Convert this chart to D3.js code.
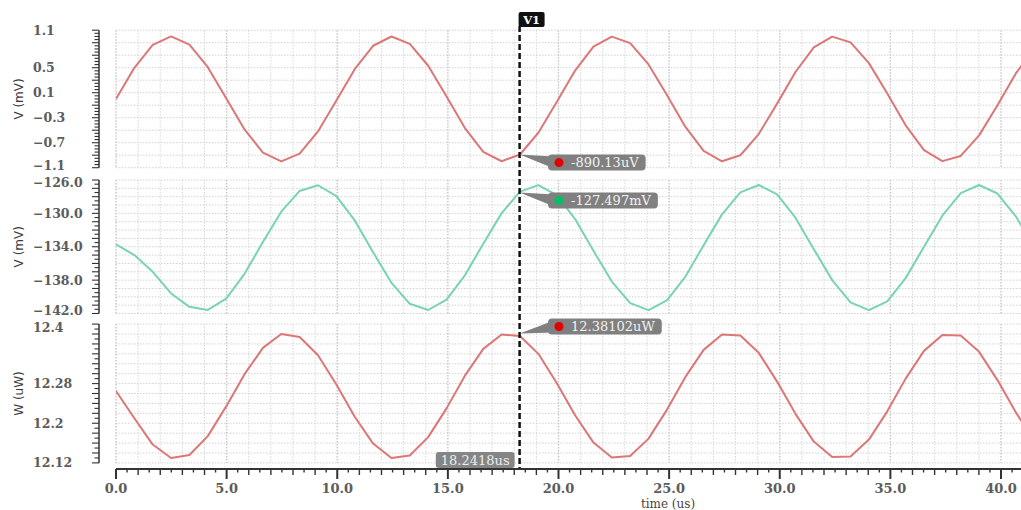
<!DOCTYPE html>
<html>
<head>
<meta charset="utf-8">
<script src="https://cdn.jsdelivr.net/npm/d3@7"></script>
<style>
  body { margin: 0; background: #fff; }
  svg { display: block; font-family: "DejaVu Serif", serif; }
</style>
</head>
<body>
<svg class="svg" width="1021" height="510"></svg>
<script>
// transient sim samples (us)
const time = [0, 0.83, 1.66, 2.49, 3.32, 4.15, 4.98, 5.81, 6.64, 7.47, 8.3, 9.13, 9.96, 10.79, 11.62, 12.45,
  13.28, 14.11, 14.94, 15.77, 16.6, 17.43, 18.26, 19.09, 19.92, 20.75, 21.58, 22.41, 23.24, 24.07, 24.9,
  25.73, 26.56, 27.39, 28.22, 29.05, 29.88, 30.71, 31.54, 32.37, 33.2, 34.03, 34.86, 35.69, 36.52, 37.35,
  38.18, 39.01, 39.84, 40.67, 41.5];

// V (mV), top trace
const vOut = [0, 0.498, 0.864, 1.0, 0.87, 0.509, 0.013, -0.487, -0.858, -1.0,
  -0.876, -0.52, -0.025, 0.476, 0.851, 0.999, 0.882, 0.531, 0.038, -0.466,
  -0.846, -0.997, -0.889, -0.541, -0.05, 0.454, 0.838, 0.998, 0.894, 0.552,
  0.063, -0.444, -0.832, -0.997, -0.901, -0.562, -0.075, 0.431, 0.824, 0.997,
  0.905, 0.573, 0.088, -0.422, -0.818, -0.995, -0.912, -0.583, -0.1, 0.409, 0.809];

// V (mV), middle trace
const vBias = [-133.7, -135.0, -137.0, -139.6, -141.2, -141.57, -140.22, -137.25, -133.44, -129.8,
  -127.31, -126.63, -127.93, -130.85, -134.66, -138.32, -140.84, -141.58, -140.33, -137.42,
  -133.63, -129.97, -127.4, -126.61, -127.82, -130.68, -134.48, -138.17, -140.76, -141.59,
  -140.43, -137.6, -133.82, -130.12, -127.49, -126.6, -127.72, -130.52, -134.29, -138.0,
  -140.67, -141.6, -140.54, -137.76, -134.0, -130.28, -127.58, -126.6, -127.62, -130.35, -134.1];

// W (uW), bottom trace
const power = [12.265, 12.21, 12.157, 12.13, 12.136, 12.174, 12.234, 12.299, 12.352, 12.38,
  12.374, 12.337, 12.278, 12.213, 12.159, 12.13, 12.135, 12.172, 12.23, 12.296,
  12.35, 12.379, 12.376, 12.34, 12.281, 12.216, 12.161, 12.131, 12.134, 12.169,
  12.227, 12.293, 12.348, 12.379, 12.377, 12.342, 12.284, 12.219, 12.163, 12.132,
  12.133, 12.167, 12.224, 12.29, 12.346, 12.378, 12.377, 12.344, 12.287, 12.222, 12.165];

const cursorTime = 18.2418;
const cursorName = 'V1';
const cursorValues = [-0.89013, -127.497, 12.38102];
const cursorTexts = ['-890.13uV', '-127.497mV', '12.38102uW'];
const cursorTimeText = '18.2418us';

const xTicks = [0, 5, 10, 15, 20, 25, 30, 35, 40];
const ticks1 = [1.1, 0.5, 0.1, -0.3, -0.7, -1.1];
const ticks2 = [-126, -130, -134, -138, -142];
const ticks3 = ['12.4', '12.28', '12.2', '12.12'];

const plotLeft = 116, plotRight = 1021;
const x = d3.scaleLinear().domain([0, 40]).range([plotLeft, 1001]);

const panels = [
  { name: 'p1', values: vOut, color: '#dd7676', dot: '#e00000', title: 'V (mV)',
    y: d3.scaleLinear().domain([-1.1, 1.1]).range([167.7, 30.2]),
    grid: 0.2, minor: 0.05, ticks: ticks1, fmt: d3.format('.1f'), boxOff: 0, nudge: [0, -2] },
  { name: 'p2', values: vBias, color: '#78d4b0', dot: '#00c060', title: 'V (mV)',
    y: d3.scaleLinear().domain([-142, -126]).range([313.5, 180]),
    grid: 1, minor: 0.5, ticks: ticks2, fmt: d3.format('.1f'), boxOff: 0, nudge: [2, -3] },
  { name: 'p3', values: power, color: '#dd7676', dot: '#e00000', title: 'W (uW)',
    y: d3.scaleLinear().domain([12.12, 12.4]).range([462.9, 324.1]),
    grid: 0.02, minor: 0.01, ticks: ticks3, fmt: d => d, boxOff: -15, nudge: [3, 0] }
];

const svg = d3.select('.svg');

function steps(lo, hi, step) {
  const n = Math.round((hi - lo) / step);
  return d3.range(n + 1).map(i => lo + i * step);
}

panels.forEach((p, pi) => {
  const [lo, hi] = p.y.domain();
  const [yBot, yTop] = p.y.range();
  const g = svg.append('g').classed(`panel-${p.name}`, true);

  g.append('clipPath').attr('id', `clip-${p.name}`)
    .append('rect').attr('x', plotLeft).attr('y', yTop - 1)
    .attr('width', plotRight - plotLeft).attr('height', yBot - yTop + 2);

  // grid
  g.selectAll('.vgrid').data(d3.range(0, 41)).join('line')
    .classed('vgrid', true)
    .attr('x1', d => x(d)).attr('x2', d => x(d))
    .attr('y1', yTop).attr('y2', yBot)
    .attr('stroke', d => d % 5 === 0 ? '#c4c4c4' : '#d6d6d6')
    .attr('stroke-width', d => d % 5 === 0 ? 1.4 : 1)
    .attr('stroke-dasharray', '1.5,1.5');

  g.selectAll('.hgrid').data(steps(lo, hi, p.grid)).join('line')
    .classed('hgrid', true)
    .attr('x1', plotLeft).attr('x2', plotRight)
    .attr('y1', d => p.y(d)).attr('y2', d => p.y(d))
    .attr('stroke', '#d2d2d2')
    .attr('stroke-dasharray', '1.5,1.5');

  // ruler axis
  g.append('line').attr('x1', 99).attr('x2', 99).attr('y1', yTop).attr('y2', yBot)
    .attr('stroke', '#333').attr('stroke-width', 1.5);
  const ratio = Math.round(p.grid / p.minor);
  g.selectAll('.rtick').data(steps(lo, hi, p.minor)).join('line')
    .classed('rtick', true)
    .attr('x1', (d, i) => i % ratio === 0 ? 92 : 94.5).attr('x2', 99)
    .attr('y1', d => p.y(d)).attr('y2', d => p.y(d))
    .attr('stroke', '#333').attr('stroke-width', 1.1);

  const last = p.ticks.length - 1;
  g.selectAll('.ylabel').data(p.ticks).join('text')
    .classed('ylabel', true)
    .attr('x', 33)
    .attr('y', (d, i) => p.y(+d) + (i === 0 ? p.nudge[0] : (i === last ? p.nudge[1] : 0)))
    .attr('dy', '0.36em')
    .attr('font-size', 12.5).attr('font-weight', 'bold').attr('fill', '#5c5c5c')
    .text(d => p.fmt(d));

  g.append('text')
    .attr('transform', `translate(23,${(yTop + yBot) / 2}) rotate(-90)`)
    .attr('text-anchor', 'middle')
    .attr('font-family', 'DejaVu Sans, sans-serif')
    .attr('font-size', 12).attr('fill', '#3a3a3a')
    .text(p.title);

  // trace
  const line = d3.line().x((d, i) => x(time[i])).y(d => p.y(d));
  g.append('path').datum(p.values)
    .attr('clip-path', `url(#clip-${p.name})`)
    .attr('d', line)
    .attr('fill', 'none').attr('stroke', p.color).attr('stroke-width', 2)
    .attr('stroke-linejoin', 'round');
});

// x axis
const xa = svg.append('g').classed('x-axis', true);
const axisY = 469;
xa.append('line').attr('x1', plotLeft).attr('x2', plotRight).attr('y1', axisY).attr('y2', axisY)
  .attr('stroke', '#333').attr('stroke-width', 2);
xa.selectAll('.xtick').data(d3.range(0, 83).map(i => i / 2)).join('line')
  .classed('xtick', true)
  .attr('x1', d => x(d)).attr('x2', d => x(d))
  .attr('y1', axisY)
  .attr('y2', d => d % 5 === 0 ? axisY + 10 : (d % 1 === 0 ? axisY + 6 : axisY + 3.5))
  .attr('stroke', '#333').attr('stroke-width', d => d % 5 === 0 ? 2 : 1.4);
xa.selectAll('.xlabel').data(xTicks).join('text')
  .classed('xlabel', true)
  .attr('x', d => x(d)).attr('y', 493)
  .attr('text-anchor', 'middle')
  .attr('font-size', 13).attr('font-weight', 'bold').attr('fill', '#5c5c5c')
  .text(d => d3.format('.1f')(d));
xa.append('text').attr('x', 668).attr('y', 508).attr('text-anchor', 'middle')
  .attr('font-size', 12).attr('fill', '#444').text('time (us)');

// cursor
const cx = x(cursorTime);
const cur = svg.append('g').classed('cursor', true);
cur.append('line').attr('x1', cx).attr('x2', cx).attr('y1', 26).attr('y2', 468)
  .attr('stroke', '#111').attr('stroke-width', 2.5).attr('stroke-dasharray', '6,3');
cur.append('rect').attr('x', cx - 1).attr('y', 12).attr('width', 26).attr('height', 15)
  .attr('rx', 2).attr('fill', '#111');
cur.append('text').attr('x', cx + 12).attr('y', 23.5).attr('text-anchor', 'middle')
  .attr('font-size', 11.5).attr('font-weight', 'bold').attr('fill', '#fff').text(cursorName);

// bottom time readout
const tt = cur.append('text').attr('y', 465).attr('font-size', 13).attr('fill', '#eeeeee')
  .text(cursorTimeText);
const tw = tt.node().getComputedTextLength();
tt.attr('x', cx - 5 - tw - 5);
cur.insert('rect', () => tt.node())
  .attr('x', cx - 5 - tw - 10).attr('y', 452).attr('width', tw + 10).attr('height', 16)
  .attr('rx', 3).attr('fill', '#858585');

// readouts at each panel
panels.forEach((p, pi) => {
  const py = p.y(cursorValues[pi]);
  const bx = 548, by = py + p.boxOff, bh = 16;
  const rg = cur.append('g');
  const t = rg.append('text').attr('x', bx + 23).attr('y', by + 12.5)
    .attr('font-size', 13).attr('fill', '#f2f2f2').text(cursorTexts[pi]);
  const w = t.node().getComputedTextLength() + 30;
  rg.insert('polygon', 'text')
    .attr('points', [[cx, py], [bx + 6, by + 2], [bx + 6, by + bh - 2]].map(d => d.join(',')).join(' '))
    .attr('fill', '#808080');
  rg.insert('rect', 'text').attr('x', bx).attr('y', by).attr('width', w).attr('height', bh)
    .attr('rx', 4).attr('fill', '#808080');
  rg.insert('circle', 'text').attr('cx', bx + 11).attr('cy', by + bh / 2).attr('r', 4.5)
    .attr('fill', p.dot);
});
</script>
</body>
</html>
